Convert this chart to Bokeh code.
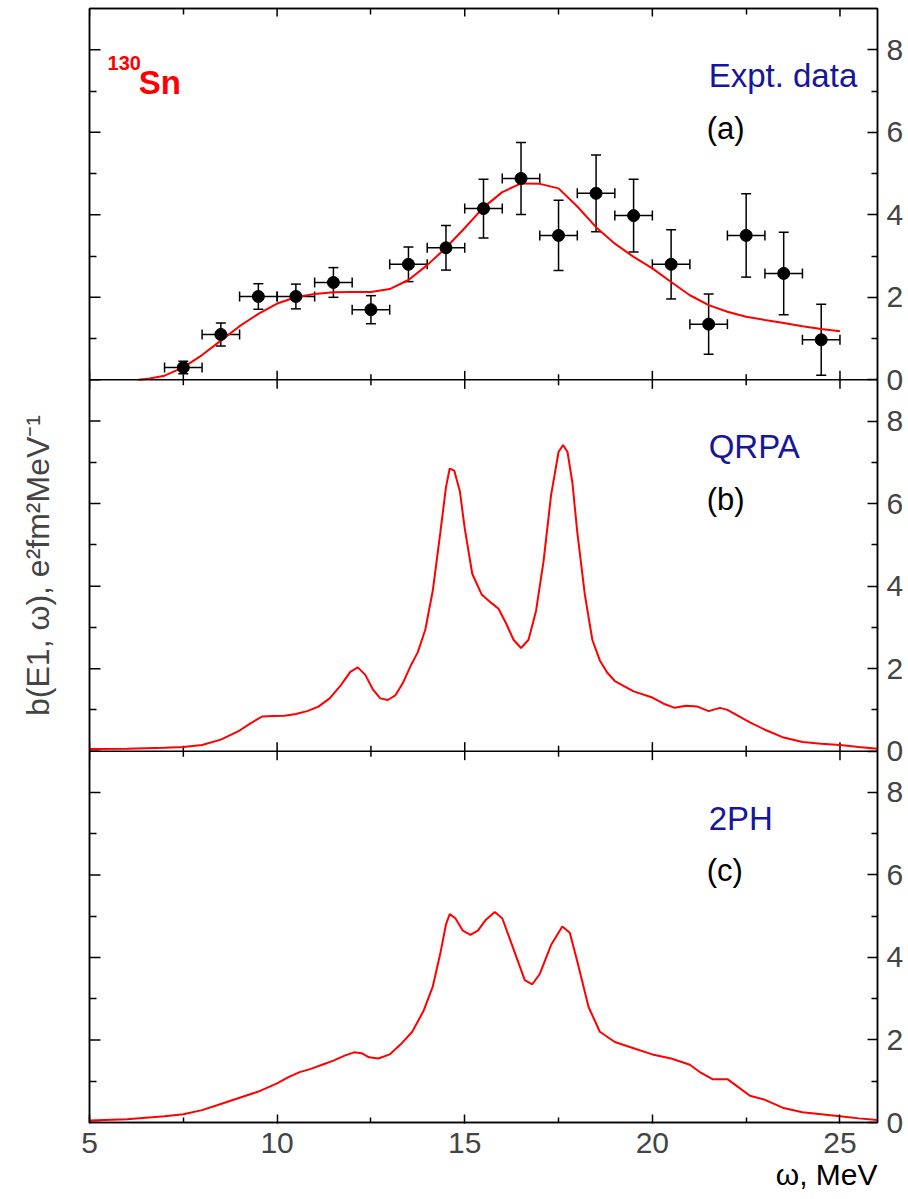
import math
from bokeh.plotting import figure
from bokeh.models import Range1d, LinearAxis, FixedTicker, Span, Label, Grid, Title
from bokeh.embed import file_html
from bokeh.resources import INLINE

# ---------------- data ----------------
# panel (a): experimental data (130Sn)
exp_x = [7.5, 8.5, 9.5, 10.5, 11.5, 12.5, 13.5, 14.5, 15.5, 16.5,
         17.5, 18.5, 19.5, 20.5, 21.5, 22.5, 23.5, 24.5]
exp_y = [0.3, 1.1, 2.02, 2.02, 2.36, 1.7, 2.8, 3.2, 4.15, 4.88,
         3.5, 4.52, 3.98, 2.8, 1.35, 3.5, 2.58, 0.97]
exp_yerr = [0.15, 0.28, 0.31, 0.3, 0.36, 0.34, 0.42, 0.54, 0.71, 0.87,
            0.85, 0.93, 0.88, 0.84, 0.73, 1.01, 1.0, 0.86]
exp_xerr = [0.5] * len(exp_x)

fit_x = [6.3, 6.6, 7.0, 7.5, 8.0, 8.5, 9.0, 9.5, 10.0, 10.5, 11.0, 11.5, 12.0,
         12.5, 13.0, 13.5, 14.0, 14.5, 15.0, 15.5, 16.0, 16.5, 17.0, 17.5,
         18.0, 18.5, 19.0, 19.5, 20.0, 20.5, 21.0, 21.5, 22.0, 22.5, 23.0,
         23.5, 24.0, 24.5, 25.0]
fit_y = [0.0, 0.03, 0.1, 0.3, 0.6, 0.95, 1.3, 1.6, 1.85, 2.0, 2.08, 2.12, 2.13,
         2.13, 2.2, 2.42, 2.78, 3.2, 3.68, 4.18, 4.55, 4.76, 4.75, 4.64,
         4.2, 3.7, 3.3, 2.98, 2.7, 2.37, 2.05, 1.81, 1.65, 1.53, 1.45,
         1.38, 1.3, 1.23, 1.18]

# panel (b): QRPA
qrpa_x = [5.0, 6.0, 7.0, 7.5, 8.0, 8.5, 9.0, 9.3, 9.6, 9.9, 10.2, 10.5, 10.8,
          11.1, 11.4, 11.7, 11.95, 12.15, 12.35, 12.55, 12.75, 12.95, 13.15,
          13.35, 13.55, 13.75, 13.95, 14.15, 14.35, 14.5, 14.6, 14.72, 14.87,
          15.0, 15.2, 15.45, 15.7, 15.9, 16.1, 16.3, 16.5, 16.7, 16.9, 17.1,
          17.3, 17.5, 17.62, 17.74, 17.87, 18.0, 18.2, 18.4, 18.6, 18.8, 19.0,
          19.5, 20.0, 20.3, 20.6, 20.9, 21.2, 21.5, 21.8, 22.0, 22.3, 22.6,
          23.0, 23.5, 24.0, 24.5, 25.0, 25.5, 26.0]
qrpa_y = [0.05, 0.06, 0.08, 0.1, 0.15, 0.28, 0.5, 0.68, 0.84, 0.85, 0.86, 0.9, 0.97,
          1.08, 1.28, 1.6, 1.92, 2.03, 1.85, 1.5, 1.28, 1.24, 1.35,
          1.65, 2.05, 2.4, 2.95, 3.9, 5.3, 6.4, 6.85, 6.8, 6.3,
          5.4, 4.3, 3.8, 3.6, 3.45, 3.1, 2.7, 2.5, 2.7, 3.4, 4.6,
          6.2, 7.25, 7.42, 7.25, 6.5, 5.3, 3.8, 2.7, 2.2, 1.9, 1.7,
          1.45, 1.3, 1.15, 1.05, 1.1, 1.08, 0.97, 1.05, 1.0, 0.85, 0.7,
          0.52, 0.33, 0.22, 0.18, 0.15, 0.1, 0.06]

# panel (c): 2PH
tph_x = [5.0, 6.0, 7.0, 7.5, 8.0, 8.5, 9.0, 9.5, 10.0, 10.3, 10.6, 10.9, 11.2,
         11.5, 11.8, 12.05, 12.25, 12.45, 12.7, 13.0, 13.3, 13.6, 13.9, 14.15,
         14.35, 14.5, 14.6, 14.75, 14.95, 15.15, 15.35, 15.55, 15.8, 16.0,
         16.3, 16.6, 16.8, 17.0, 17.3, 17.6, 17.8, 18.0, 18.3, 18.6, 19.0,
         19.5, 20.0, 20.5, 21.0, 21.3, 21.6, 22.0, 22.3, 22.6, 23.0, 23.5,
         24.0, 24.5, 25.0, 25.5, 26.0]
tph_y = [0.05, 0.08, 0.15, 0.2, 0.3, 0.45, 0.6, 0.75, 0.95, 1.1, 1.22, 1.3, 1.4,
         1.5, 1.62, 1.7, 1.68, 1.58, 1.55, 1.65, 1.9, 2.2, 2.7, 3.3,
         4.1, 4.8, 5.05, 4.95, 4.65, 4.55, 4.65, 4.9, 5.1, 4.95,
         4.2, 3.45, 3.35, 3.6, 4.3, 4.75, 4.6, 3.9, 2.8, 2.2, 1.95,
         1.8, 1.65, 1.55, 1.4, 1.2, 1.05, 1.05, 0.85, 0.65, 0.55, 0.35,
         0.25, 0.2, 0.15, 0.1, 0.06]

# axes / ticks / texts
x_major = [5, 10, 15, 20, 25]
x_minor = [7.5, 12.5, 17.5, 22.5]
y_major = [0, 2, 4, 6, 8]
y_minor = [1, 3, 5, 7]
panel_span = 9
panel_names = ["a", "b", "c"]          # top to bottom
panel_titles = ["Expt. data", "QRPA", "2PH"]
panel_tags = ["(a)", "(b)", "(c)"]
x_title = "ω, MeV"
y_title = "b(E1, ω), e²fm²MeV⁻¹"
nucleus_mass = "130"
nucleus_sym = "Sn"

FONT = "Liberation Sans"
RED = "#ff0000"
BLUE = "#16169c"
LW = 1.5

# ---------------- figure ----------------
n_pan = len(panel_names)
x0, x1 = 5, 26
p = figure(frame_width=788, frame_height=1114,
           x_range=Range1d(x0, x1), y_range=Range1d(0, panel_span * n_pan),
           output_backend="svg", toolbar_location=None,
           x_axis_location=None, y_axis_location=None,
           min_border_left=89, min_border_right=10,
           min_border_top=8, min_border_bottom=0,
           background_fill_color="white", border_fill_color="white")
p.center = [r for r in p.center if not isinstance(r, Grid)]
p.outline_line_color = "black"
p.outline_line_width = LW

# each panel gets its own y range, stacked vertically on the frame
range_of = {}
for i, name in enumerate(panel_names):
    k = n_pan - 1 - i  # index from bottom
    if k == 0:
        range_of[name] = "default"
    else:
        p.extra_y_ranges[name] = Range1d(-panel_span * k, panel_span * (n_pan - k))
        range_of[name] = name

def axis_style(ax):
    ax.axis_line_width = LW
    ax.major_tick_line_width = LW
    ax.minor_tick_line_width = LW
    ax.major_label_text_font = FONT
    ax.axis_label_text_font = FONT

below = LinearAxis(ticker=FixedTicker(ticks=x_major, minor_ticks=x_minor),
                   major_tick_in=8, major_tick_out=1,
                   minor_tick_in=5, minor_tick_out=0, major_label_standoff=9,
                   major_label_text_font_size="30px")
axis_style(below)
p.add_layout(below, "below")
p.add_layout(Title(text=x_title, align="right", text_font=FONT,
                   text_font_size="30px", text_font_style="normal",
                   text_color="black", standoff=0), "below")

# top edge: minor ticks from an axis, major ticks as inward dashes
above = LinearAxis(ticker=FixedTicker(ticks=[], minor_ticks=x_minor),
                   minor_tick_in=6, minor_tick_out=0, major_label_standoff=0)
axis_style(above)
p.add_layout(above, "above")
p.scatter(x=x_major, y=[panel_span] * len(x_major), y_range_name=range_of[panel_names[0]],
          marker="dash", size=16, angle=math.pi / 2, line_color="black", line_width=LW)

all_major, all_minor = [], []
for k in range(n_pan):
    all_major += [t + panel_span * k for t in y_major]
    all_minor += [t + panel_span * k for t in y_minor]
overrides = {t + panel_span * k: str(t) for k in range(n_pan) for t in y_major}

right = LinearAxis(ticker=FixedTicker(ticks=all_major, minor_ticks=all_minor),
                   major_tick_in=10, major_tick_out=0,
                   minor_tick_in=6, minor_tick_out=0, major_label_standoff=9,
                   major_label_text_font_size="30px",
                   major_label_overrides=overrides)
axis_style(right)
p.add_layout(right, "right")

left = LinearAxis(ticker=FixedTicker(ticks=[], minor_ticks=all_minor),
                  minor_tick_in=7, minor_tick_out=0, major_label_standoff=0,
                  axis_label=y_title, axis_label_text_font_size="32px",
                  axis_label_text_font_style="normal", axis_label_standoff=34)
axis_style(left)
p.add_layout(left, "left")
p.scatter(x=[x0] * len(all_major), y=all_major, marker="dash", size=22,
          line_color="black", line_width=LW)

# panel separators with crossing ticks
for name in panel_names[:-1]:
    rn = range_of[name]
    p.add_layout(Span(location=0, dimension="width", y_range_name=rn,
                      line_color="black", line_width=LW))
    p.scatter(x=x_major, y=[0] * len(x_major), y_range_name=rn, marker="dash",
              size=18, angle=math.pi / 2, line_color="black", line_width=LW)
    p.scatter(x=x_minor, y=[0] * len(x_minor), y_range_name=rn, marker="dash",
              size=11, angle=math.pi / 2, line_color="black", line_width=LW)

# ---- panel (a) ----
ra = range_of["a"]
p.segment(x0=exp_x, y0=[y - e for y, e in zip(exp_y, exp_yerr)],
          x1=exp_x, y1=[y + e for y, e in zip(exp_y, exp_yerr)],
          y_range_name=ra, line_color="black", line_width=LW)
p.segment(x0=[x - e for x, e in zip(exp_x, exp_xerr)], y0=exp_y,
          x1=[x + e for x, e in zip(exp_x, exp_xerr)], y1=exp_y,
          y_range_name=ra, line_color="black", line_width=LW)
p.scatter(x=exp_x + exp_x, y=[y - e for y, e in zip(exp_y, exp_yerr)] +
          [y + e for y, e in zip(exp_y, exp_yerr)], y_range_name=ra,
          marker="dash", size=10, line_color="black", line_width=LW)
p.scatter(x=[x - e for x, e in zip(exp_x, exp_xerr)] + [x + e for x, e in zip(exp_x, exp_xerr)],
          y=exp_y + exp_y, y_range_name=ra, marker="dash", size=10,
          angle=math.pi / 2, line_color="black", line_width=LW)
p.line(fit_x, fit_y, y_range_name=ra, line_color=RED, line_width=2)
p.scatter(exp_x, exp_y, y_range_name=ra, size=12, fill_color="black",
          line_color="black")

# ---- panel (b), (c) ----
p.line(qrpa_x, qrpa_y, y_range_name=range_of["b"], line_color=RED, line_width=2)
p.line(tph_x, tph_y, y_range_name=range_of["c"], line_color=RED, line_width=2)

# ---- texts ----
for name, title, tag in zip(panel_names, panel_titles, panel_tags):
    rn = range_of[name]
    p.add_layout(Label(x=21.5, y=7.38, y_range_name=rn, text=title,
                       text_font=FONT, text_font_size="33px", text_color=BLUE,
                       text_baseline="alphabetic"))
    p.add_layout(Label(x=21.45, y=6.1, y_range_name=rn, text=tag,
                       text_font=FONT, text_font_size="31px", text_color="black",
                       text_baseline="alphabetic"))

p.add_layout(Label(x=5.48, y=7.69, y_range_name=ra, text=nucleus_mass,
                   text_font=FONT, text_font_size="20px", text_color=RED,
                   text_font_style="bold", text_baseline="alphabetic"))
p.add_layout(Label(x=6.31, y=7.21, y_range_name=ra, text=nucleus_sym,
                   text_font=FONT, text_font_size="33px", text_color=RED,
                   text_font_style="bold", text_baseline="alphabetic"))

open("out.html", "w").write(file_html(p, INLINE))
